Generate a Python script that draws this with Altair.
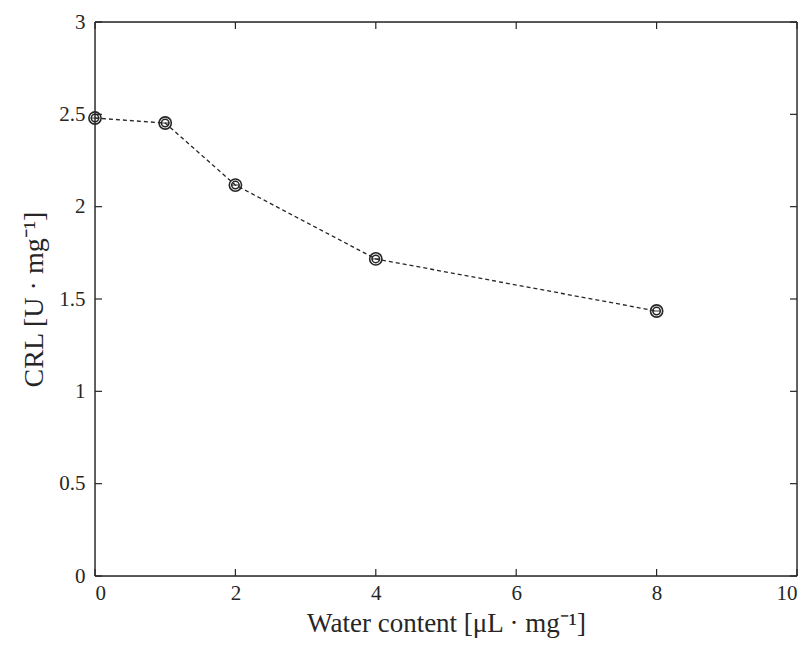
import altair as alt
import pandas as pd

water = [0, 1, 2, 4, 8]
crl = [2.48, 2.453, 2.117, 1.717, 1.435]
x_ticks = [0, 2, 4, 6, 8, 10]
y_ticks = [0, 0.5, 1, 1.5, 2, 2.5, 3]

W, H = 702, 554
INK = "#262626"
FONT = "Liberation Serif"

df = pd.DataFrame({"water": water, "crl": crl})
dxt = pd.DataFrame({"t": x_ticks})
dyt = pd.DataFrame({"t": y_ticks})

xs = alt.Scale(domain=[0, 10], nice=False, zero=False)
ys = alt.Scale(domain=[0, 3], nice=False, zero=False)

xaxis = alt.Axis(values=x_ticks, format="~g", ticks=False, domain=False, grid=False,
                 labelPadding=6, labelFontSize=21, labelFont=FONT, labelColor=INK,
                 title="Water content [μL · mg⁻¹]", titleFont=FONT, titleFontSize=27,
                 titleFontWeight="normal", titleColor=INK, titlePadding=7)
yaxis = alt.Axis(values=y_ticks, format=".1~f", ticks=False, domain=False, grid=False,
                 labelPadding=10, labelFontSize=21, labelFont=FONT, labelColor=INK,
                 title="CRL [U · mg⁻¹]", titleFont=FONT, titleFontSize=28,
                 titleFontWeight="normal", titleColor=INK, titlePadding=10)

line = alt.Chart(df).mark_line(color=INK, strokeWidth=1.3, strokeDash=[4, 3]).encode(
    x=alt.X("water:Q", scale=xs, axis=xaxis),
    y=alt.Y("crl:Q", scale=ys, axis=yaxis),
)
outer = alt.Chart(df).mark_point(shape="circle", size=150, filled=False, color=INK,
                                  strokeWidth=1.6, opacity=1).encode(
    x=alt.X("water:Q", scale=xs), y=alt.Y("crl:Q", scale=ys))
inner = alt.Chart(df).mark_point(shape="circle", size=55, filled=False, color=INK,
                                  strokeWidth=1.5, opacity=1).encode(
    x=alt.X("water:Q", scale=xs), y=alt.Y("crl:Q", scale=ys))
bar = alt.Chart(df).mark_tick(orient="horizontal", size=9, thickness=1.3, color=INK).encode(
    x=alt.X("water:Q", scale=xs), y=alt.Y("crl:Q", scale=ys))

tl = 7
xt_bot = alt.Chart(dxt).mark_rule(color=INK, strokeWidth=1.2).encode(
    x=alt.X("t:Q", scale=xs), y=alt.value(H), y2=alt.value(H - tl))
xt_top = alt.Chart(dxt).mark_rule(color=INK, strokeWidth=1.2).encode(
    x=alt.X("t:Q", scale=xs), y=alt.value(0), y2=alt.value(tl))
yt_left = alt.Chart(dyt).mark_rule(color=INK, strokeWidth=1.2).encode(
    y=alt.Y("t:Q", scale=ys), x=alt.value(0), x2=alt.value(tl))
yt_right = alt.Chart(dyt).mark_rule(color=INK, strokeWidth=1.2).encode(
    y=alt.Y("t:Q", scale=ys), x=alt.value(W), x2=alt.value(W - tl))

frame_style = dict(color=INK, strokeWidth=1.4)
box_top = alt.Chart().mark_rule(**frame_style).encode(x=alt.value(0), x2=alt.value(W), y=alt.value(0))
box_bot = alt.Chart().mark_rule(**frame_style).encode(x=alt.value(0), x2=alt.value(W), y=alt.value(H))
box_l = alt.Chart().mark_rule(**frame_style).encode(y=alt.value(0), y2=alt.value(H), x=alt.value(0))
box_r = alt.Chart().mark_rule(**frame_style).encode(y=alt.value(0), y2=alt.value(H), x=alt.value(W))

chart = alt.layer(line, box_top, box_bot, box_l, box_r, xt_bot, xt_top, yt_left, yt_right,
                  outer, inner, bar).properties(
    width=W, height=H,
    autosize=alt.AutoSizeParams(type="none"),
    padding={"left": 87, "top": 14, "right": 7, "bottom": 64},
).configure_view(stroke=None).configure(background="white")

chart.save("out.html", embed_options={"renderer": "svg", "actions": False})
